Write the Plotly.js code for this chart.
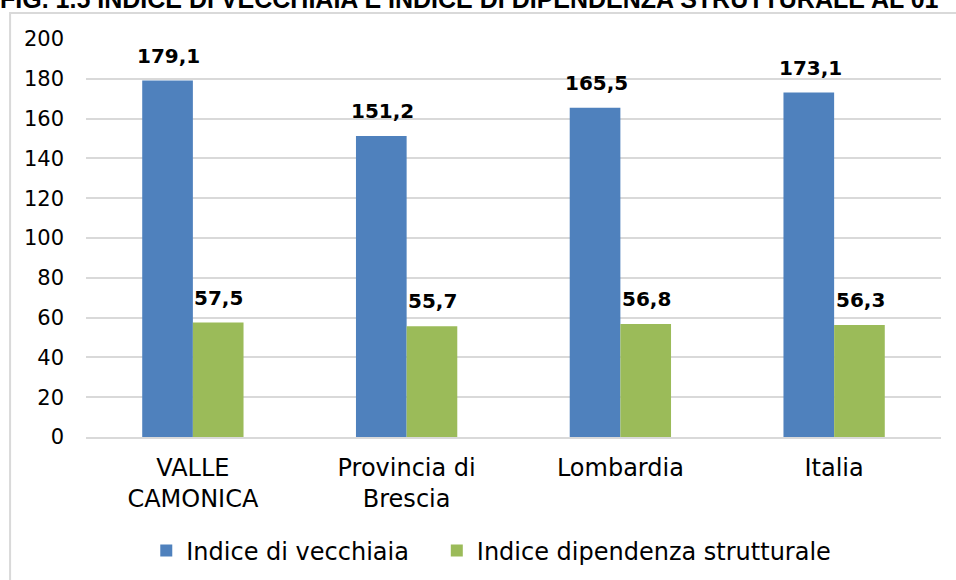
<!DOCTYPE html>
<html>
<head>
<meta charset="utf-8">
<script src="https://cdn.plot.ly/plotly-3.0.1.min.js"></script>
<style>
  html, body { margin: 0; padding: 0; background: #fff; }
  #chart { width: 956px; height: 580px; }
</style>
</head>
<body>
<div id="chart"></div>
<script>
var categories = ['VALLE<br>CAMONICA', 'Provincia di<br>Brescia', 'Lombardia', 'Italia'];
var vecchiaia = [179.1, 151.2, 165.5, 173.1];
var dipendenza = [57.5, 55.7, 56.8, 56.3];
var yTicks = [0, 20, 40, 60, 80, 100, 120, 140, 160, 180, 200];

var trace1 = {
  x: categories,
  y: vecchiaia,
  name: 'Indice di vecchiaia\u00a0\u00a0\u00a0',
  type: 'bar',
  marker: {color: '#4f81bd'}
};

var trace2 = {
  x: categories,
  y: dipendenza,
  name: 'Indice dipendenza strutturale',
  type: 'bar',
  marker: {color: '#9bbb59'}
};

// value labels above the bars, comma as decimal mark
function fmt(v) { return v.toFixed(1).replace('.', ','); }
var labels = [];
categories.forEach(function(c, i) {
  labels.push({x: c, y: vecchiaia[i], text: '<b>' + fmt(vecchiaia[i]) + '</b>', xshift: -24, yshift: 11,
    yanchor: 'bottom', showarrow: false, font: {family: 'DejaVu Sans', size: 20, color: '#000'}});
  labels.push({x: c, y: dipendenza[i], text: '<b>' + fmt(dipendenza[i]) + '</b>', xshift: 26, yshift: 11,
    yanchor: 'bottom', showarrow: false, font: {family: 'DejaVu Sans', size: 20, color: '#000'}});
});

labels.push({
  xref: 'paper', yref: 'paper',
  x: -0.1028, xanchor: 'left',
  y: 1.1005, yanchor: 'middle',
  text: '<b>FIG. 1.5 INDICE DI VECCHIAIA E INDICE DI DIPENDENZA STRUTTURALE AL 01</b>',
  showarrow: false,
  font: {family: 'Liberation Sans Narrow, Liberation Sans', size: 25, color: '#000'}
});

var layout = {
  width: 956,
  height: 580,
  margin: {l: 86, r: 15, t: 39, b: 143},
  paper_bgcolor: '#fff',
  plot_bgcolor: '#fff',
  barmode: 'group',
  bargap: 0.526,
  bargroupgap: 0,
  font: {family: 'DejaVu Sans', size: 20, color: '#000'},
  showlegend: true,
  legend: {
    orientation: 'h',
    xref: 'paper',
    x: 0.474,
    xanchor: 'center',
    yref: 'container',
    y: 0.05,
    yanchor: 'middle',
    font: {family: 'DejaVu Sans', size: 24, color: '#000'},
    itemwidth: 30
  },
  xaxis: {
    automargin: false,
    showgrid: false,
    showline: true,
    linecolor: '#d9d9d9',
    linewidth: 2,
    ticks: '',
    ticklabelstandoff: 8,
    tickfont: {family: 'DejaVu Sans', size: 24, color: '#000'}
  },
  yaxis: {
    automargin: false,
    range: [0, 200],
    tickvals: yTicks,
    showgrid: true,
    gridcolor: '#d9d9d9',
    gridwidth: 2,
    zeroline: false,
    ticks: '',
    ticklabelstandoff: 21,
    tickfont: {family: 'DejaVu Sans', size: 21, color: '#000'}
  },
  shapes: [{
    type: 'rect',
    xref: 'paper', yref: 'paper',
    x0: -0.0888, x1: 1.2, y0: -0.6, y1: 1.0653,
    line: {color: '#d9d9d9', width: 2},
    fillcolor: 'rgba(0,0,0,0)',
    layer: 'below'
  }],
  annotations: labels
};

Plotly.newPlot('chart', [trace1, trace2], layout, {displayModeBar: false, staticPlot: true});
</script>
</body>
</html>
